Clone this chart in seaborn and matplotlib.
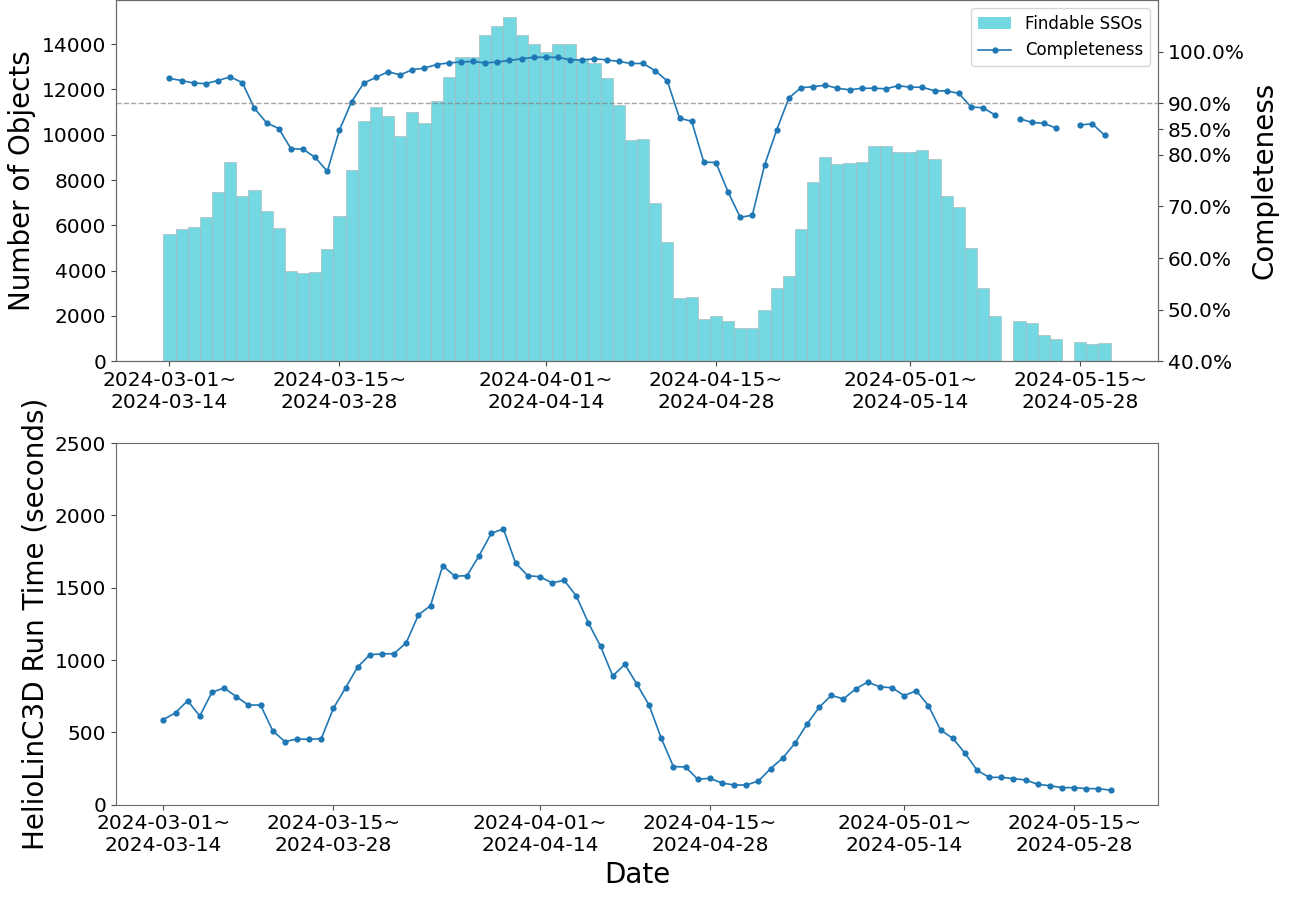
import numpy as np
import pandas as pd
import matplotlib
matplotlib.use("Agg")
import matplotlib.pyplot as plt
import matplotlib.dates as mdates
from matplotlib.patches import Patch
from matplotlib.lines import Line2D
from matplotlib.ticker import PercentFormatter
import seaborn as sns

nan = np.nan

start_date = "2024-03-01"

# findable SSOs per night (gaps = no data)
findable = [5600, 5840, 5930, 6370, 7460, 8820, 7310, 7545, 6630, 5870,
            3970, 3900, 3960, 4970, 6400, 8430, 10610, 11220, 10840, 9940,
            11000, 10510, 11490, 12570, 13430, 13430, 14400, 14780, 15190, 14410,
            14010, 13660, 14000, 14000, 13280, 13150, 12500, 11310, 9760, 9810,
            6980, 5260, 2810, 2840, 1870, 2000, 1780, 1460, 1470, 2260,
            3220, 3760, 5840, 7930, 9030, 8700, 8760, 8780, 9510, 9510,
            9230, 9230, 9310, 8940, 7280, 6810, 5000, 3230, 2000, nan,
            1770, 1680, 1150, 1000, nan, 840, 780, 810]

# completeness in percent
completeness = [94.8, 94.4, 93.9, 93.8, 94.4, 95.1, 94.0, 89.0, 86.2, 85.1,
                81.2, 81.1, 79.5, 76.8, 84.8, 90.3, 93.9, 95.0, 96.1, 95.5,
                96.5, 96.8, 97.5, 97.8, 98.0, 98.1, 97.8, 98.0, 98.3, 98.6,
                98.9, 98.9, 98.9, 98.4, 98.4, 98.6, 98.4, 98.1, 97.7, 97.7,
                96.3, 94.3, 87.1, 86.5, 78.6, 78.5, 72.8, 67.9, 68.3, 78.0,
                84.8, 91.0, 93.0, 93.2, 93.5, 92.9, 92.6, 92.9, 92.9, 92.8,
                93.4, 93.1, 93.1, 92.4, 92.4, 91.9, 89.3, 89.1, 87.7, nan,
                87.0, 86.3, 86.1, 85.2, nan, 85.8, 86.0, 83.8]

# HelioLinC3D run time (seconds)
runtime = [588, 636, 719, 613, 777, 807, 747, 689, 689, 512,
           436, 454, 452, 456, 666, 807, 952, 1037, 1042, 1044,
           1120, 1311, 1376, 1652, 1579, 1583, 1721, 1876, 1906, 1671,
           1583, 1576, 1533, 1551, 1443, 1256, 1095, 890, 970, 832,
           687, 459, 263, 261, 176, 182, 150, 136, 136, 164,
           249, 323, 424, 558, 673, 756, 731, 800, 848, 814,
           809, 754, 788, 684, 516, 459, 357, 238, 189, 189,
           180, 171, 141, 131, 118, 118, 111, 111, 100]

tick_dates = ["2024-03-01", "2024-03-15", "2024-04-01",
              "2024-04-15", "2024-05-01", "2024-05-15"]
tick_labels = ["2024-03-01~\n2024-03-14", "2024-03-15~\n2024-03-28",
               "2024-04-01~\n2024-04-14", "2024-04-15~\n2024-04-28",
               "2024-05-01~\n2024-05-14", "2024-05-15~\n2024-05-28"]
comp_ticks = [0.4, 0.5, 0.6, 0.7, 0.8, 0.85, 0.9, 1.0]

plt.rcParams.update({
    "font.family": "DejaVu Sans",
    "axes.edgecolor": "#6a6a6a",
    "xtick.color": "#4a4a4a",
    "ytick.color": "#4a4a4a",
    "xtick.labelcolor": "black",
    "ytick.labelcolor": "black",
    "xtick.labelsize": 14.5,
    "ytick.labelsize": 14.5,
})

days = mdates.date2num(pd.date_range(start_date, periods=len(runtime), freq="D"))
ticks = mdates.date2num(pd.to_datetime(tick_dates))

top = pd.DataFrame({"day": days[:len(findable)],
                    "findable": findable,
                    "comp": np.array(completeness) / 100})
bars = top.dropna(subset=["findable"])
comp = top.copy()
comp["seg"] = comp["comp"].isna().cumsum()
comp = comp.dropna(subset=["comp"])

W, H = 1293, 901
fig = plt.figure(figsize=(W / 100, H / 100), dpi=100)
ax1 = fig.add_axes([116 / W, 1 - 361.3 / H, 1042 / W, 361.3 / H])
ax2 = fig.add_axes([116 / W, 1 - 804.7 / H, 1042 / W, 361.7 / H])

# top: findable bars + completeness
sns.histplot(data=bars, x="day", weights="findable", discrete=True,
             color="tab:cyan", alpha=0.6, edgecolor="#adbcc0", linewidth=0.5,
             ax=ax1)
ax1.set_ylabel("Number of Objects", fontsize=20)
ax1.set_xlabel("")
ax1.set_yticks(range(0, 14001, 2000))

axr = ax1.twinx()
sns.lineplot(data=comp, x="day", y="comp", units="seg", estimator=None,
             color="tab:blue", marker="o", markersize=4.5, markeredgewidth=0,
             linewidth=1.2, ax=axr)
axr.axhline(0.9, color="gray", linestyle="--", linewidth=1, alpha=0.7)
axr.set_ylim(0.4, 1.1)
axr.set_yticks(comp_ticks)
axr.yaxis.set_major_formatter(PercentFormatter(1.0, decimals=1))
axr.set_ylabel("Completeness", fontsize=20)

handles = [Patch(facecolor="tab:cyan", alpha=0.6),
           Line2D([], [], color="tab:blue", marker="o", markersize=4.5,
                  markeredgewidth=0, linewidth=1.2)]
axr.legend(handles, ["Findable SSOs", "Completeness"], loc="upper right",
           fontsize=12)

ax1.set_xticks(ticks)
ax1.set_xticklabels(tick_labels)

# bottom: run time
sns.lineplot(x=days, y=runtime, color="tab:blue", marker="o", markersize=4.5,
             markeredgewidth=0, linewidth=1.2, ax=ax2)
ax2.set_ylim(0, 2500)
ax2.set_yticks(range(0, 2501, 500))
ax2.set_xticks(ticks)
ax2.set_xticklabels(tick_labels)
ax2.set_xlabel("Date", fontsize=20)
ax2.set_ylabel("HelioLinC3D Run Time (seconds)", fontsize=20)

fig.savefig("out.png", dpi=100)
